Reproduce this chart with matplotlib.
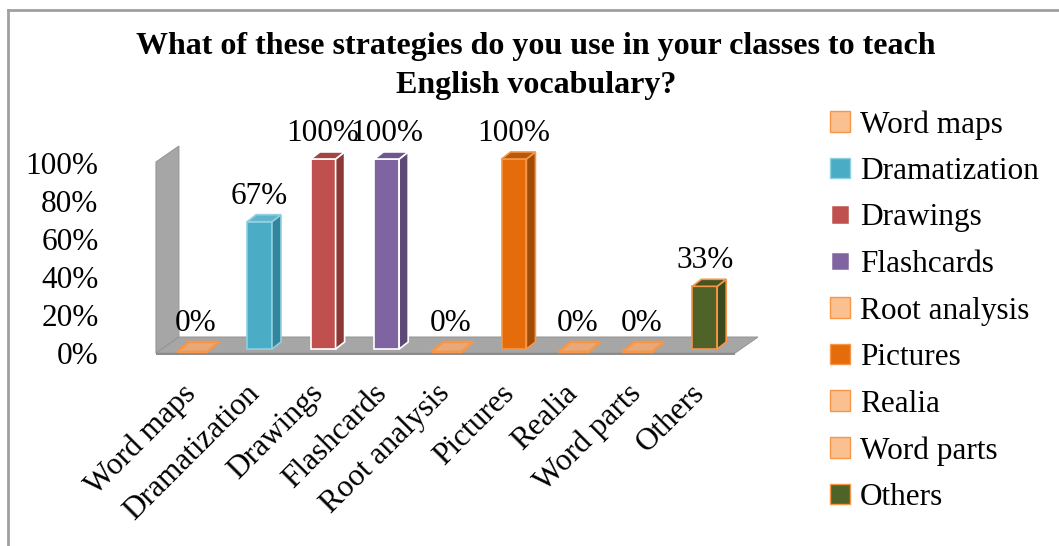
import numpy as np
import matplotlib.pyplot as plt
from matplotlib.patches import Polygon, Patch
from matplotlib.lines import Line2D

plt.rcParams['font.family'] = ['Liberation Serif', 'DejaVu Serif']

strategies = ['Word maps', 'Dramatization', 'Drawings', 'Flashcards', 'Root analysis',
              'Pictures', 'Realia', 'Word parts', 'Others']
porcentajes = [0.0, 0.67, 1.00, 1.00, 0.0, 1.00, 0.0, 0.0, 0.33]
etiquetas = ['0%', '67%', '100%', '100%', '0%', '100%', '0%', '0%', '33%']
yticks = [0.0, 0.2, 0.4, 0.6, 0.8, 1.0]
ytick_labels = ['0%', '20%', '40%', '60%', '80%', '100%']

# front, side, top, edge
colores = {
    'Word maps':     ('#fac090', '#f5a66a', '#fac090', '#f79646'),
    'Dramatization': ('#4bacc6', '#31859c', '#5fb4cc', '#8fd0e2'),
    'Drawings':      ('#c0504d', '#8c3836', '#a54542', 'white'),
    'Flashcards':    ('#8064a2', '#5c4776', '#6e5690', 'white'),
    'Root analysis': ('#fac090', '#f5a66a', '#fac090', '#f79646'),
    'Pictures':      ('#e46c0a', '#a04c07', '#b85808', '#f79646'),
    'Realia':        ('#fac090', '#f5a66a', '#fac090', '#f79646'),
    'Word parts':    ('#fac090', '#f5a66a', '#fac090', '#f79646'),
    'Others':        ('#4f6228', '#3a4a1d', '#445522', '#f79646'),
}

fig = plt.figure(figsize=(10.59, 5.46), dpi=100)
ax = fig.add_axes([150/1059, 186/546, 610/1059, 220/546])
ax.set_xlim(-0.723, 8.868)
ax.set_ylim(-0.0368, 1.121)
for s in ax.spines.values():
    s.set_visible(False)

# pared y suelo en perspectiva
x0, xr = -0.629, 8.475
dxw, dyw = 0.36, 0.084
gris = '#a6a6a6'
ax.add_patch(Polygon([(x0, 0), (x0, 1.005), (x0 + dxw, 1.005 + dyw), (x0 + dxw, dyw)],
                     closed=True, fc=gris, ec='#969696', lw=0.8, zorder=1))
ax.add_patch(Polygon([(x0, 0), (xr, 0), (xr + dxw, dyw), (x0 + dxw, dyw)],
                     closed=True, fc=gris, ec='#969696', lw=0.8, zorder=1))
ax.add_patch(Polygon([(x0, 0), (xr, 0), (xr, -0.012), (x0, -0.012)],
                     closed=True, fc='#8c8c8c', ec='none', zorder=1))

# barras 3D
w = 0.39
dx, dy = 0.1415, 0.037
b = 0.021
for i, (nombre, v) in enumerate(zip(strategies, porcentajes)):
    cf, cs, ct, ce = colores[nombre]
    l, r = i - w/2, i + w/2
    if v > 0:
        ax.add_patch(Polygon([(l, b), (r, b), (r, b + v), (l, b + v)],
                             closed=True, fc=cf, ec=ce, lw=1.2, zorder=3))
        ax.add_patch(Polygon([(r, b), (r + dx, b + dy), (r + dx, b + v + dy), (r, b + v)],
                             closed=True, fc=cs, ec=ce, lw=1.2, zorder=3))
        ax.add_patch(Polygon([(l, b + v), (r, b + v), (r + dx, b + v + dy), (l + dx, b + v + dy)],
                             closed=True, fc=ct, ec=ce, lw=1.2, zorder=3))
    else:
        ax.add_patch(Polygon([(l - 0.1, b - 0.015), (r - 0.02, b - 0.015),
                              (r + dx + 0.02, b + dy), (l + dx - 0.06, b + dy)],
                             closed=True, fc='#e8a878', ec=ce, lw=1.8, zorder=3))
    ax.annotate(etiquetas[i], (i, b + v), xytext=(0, 8), textcoords='offset points',
                ha='center', va='bottom', fontsize=22.5, zorder=5)

ax.set_xticks([])
ax.set_yticks(yticks)
ax.set_yticklabels(ytick_labels, fontsize=22.5)
ax.tick_params(axis='y', length=0, pad=37)

for i, nombre in enumerate(strategies):
    ax.text(i - 0.07, -0.19, nombre, rotation=45, rotation_mode='anchor',
            ha='right', va='center', fontsize=22.5, clip_on=False)

# titulo
fig.text(536/1059, 1 - 32/546,
         'What of these strategies do you use in your classes to teach\nEnglish vocabulary?',
         ha='center', va='top', fontsize=23, fontweight='bold', linespacing=1.45)

# leyenda
handles = []
for nombre in strategies:
    cf, cs, ct, ce = colores[nombre]
    lw = 2.5 if ce == 'white' else 1.0
    handles.append(Patch(facecolor=cf, edgecolor=ce, linewidth=lw))
fig.legend(handles, strategies, loc='upper left', bbox_to_anchor=(830/1059, 1 - 110/546),
           frameon=False, fontsize=22.5, handlelength=0.65, handleheight=0.65,
           handletextpad=0.3, labelspacing=0.56, borderaxespad=0, borderpad=0)

# marco
fig.add_artist(Line2D([8/1059, 8/1059], [0, 1 - 10/546], color='#a0a0a0', lw=2))
fig.add_artist(Line2D([8/1059, 1], [1 - 10/546, 1 - 10/546], color='#a0a0a0', lw=2))

fig.savefig('out.png', dpi=100)
